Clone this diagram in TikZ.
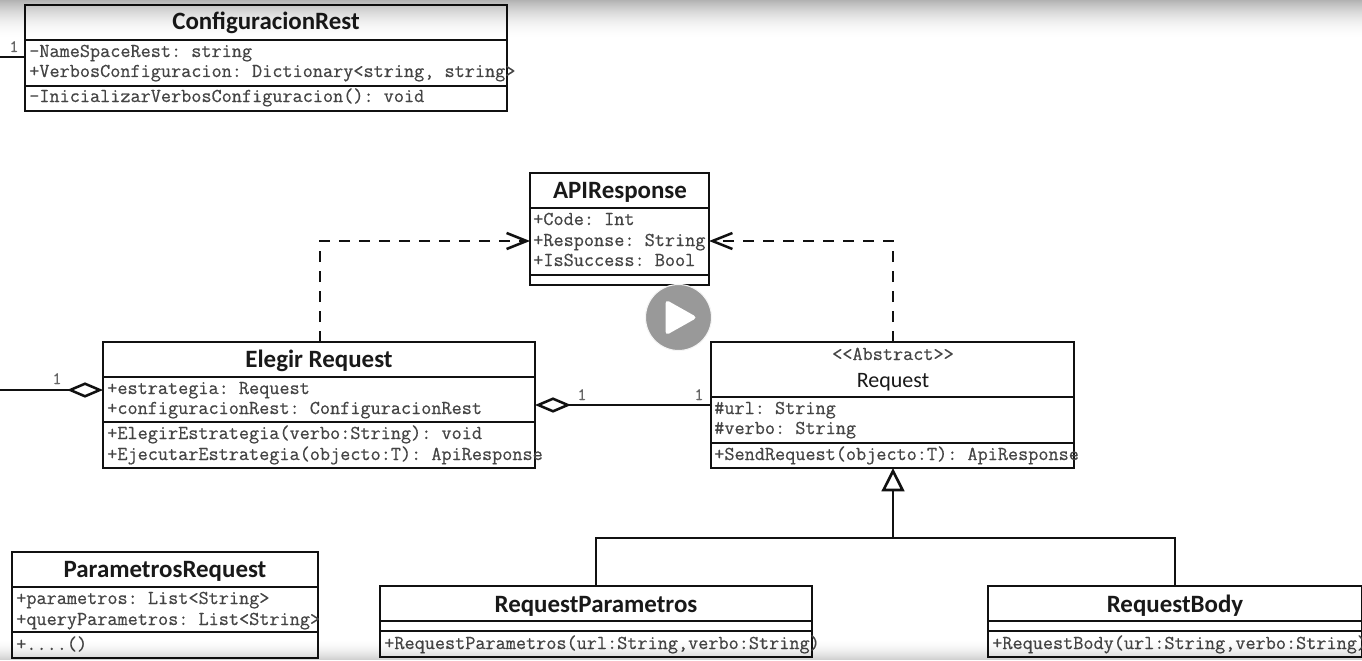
\documentclass[tikz,border=0pt]{standalone}
\usepackage{fontspec}
\setmainfont{Carlito}
\setmonofont[FakeBold=0.5]{Latin Modern Mono}
\usetikzlibrary{arrows.meta,calc}
\definecolor{inkline}{HTML}{111111}
\definecolor{inktext}{HTML}{444444}
\tikzset{
  umlframe/.style={draw=inkline,line width=2.1pt,fill=white,inner sep=0pt,outer sep=0pt,rectangle},
  rule/.style={draw=inkline,line width=2.1pt},
  titlebold/.style={inner sep=0pt,anchor=base,text=black!90,font=\fontsize{18.7}{19}\selectfont\bfseries},
  titleplain/.style={inner sep=0pt,anchor=base,text=black!90,font=\fontsize{16.5}{17}\selectfont},
  member/.style={inner sep=0pt,anchor=base west,text=inktext,font=\fontsize{14.75}{15}\selectfont\ttfamily},
  stereo/.style={inner sep=0pt,anchor=base,text=inktext,font=\fontsize{14.75}{15}\selectfont\ttfamily},
  mult/.style={inner sep=0pt,anchor=base,text=black!60,font=\fontsize{13}{13}\selectfont\ttfamily},
  assoc/.style={draw=inkline,line width=2.1pt},
  aggr/.style={assoc,{Diamond[open,fill=white,length=27pt,width=11.5pt,line width=1.9pt]}-},
  dep/.style={assoc,dash pattern=on 8.5pt off 6.5pt,-{Straight Barb[length=15pt,width=12pt,line width=1.9pt]}},
  gen/.style={assoc,-{Triangle[open,fill=white,length=17.5pt,width=17pt,line width=2pt]}},
  playdisc/.style={circle,fill=black!40,draw=white!96!black,line width=0.8pt,minimum size=49.5pt,inner sep=0pt},
}
\newcommand{\umlbox}[6]{% name x0 x1 y0 y3 dividers
  \node[umlframe,minimum width={(#3-#2)*0.75pt},minimum height={(#5-#4)*0.75pt}] (#1) at ({(#2+#3)/2},{(#4+#5)/2}) {};
  \foreach \yy in {#6} {\draw[rule] (#2,\yy) -- (#3,\yy);}
}
\begin{document}
\begin{tikzpicture}[x=0.75pt,y=-0.75pt]
\useasboundingbox (0,0) rectangle (1362,660);
\clip (0,0) rectangle (1362,660);
\fill[white] (0,0) rectangle (1362,660);

\coordinate (busTop) at (-1.6,57);
\coordinate (busBot) at (-1.6,390);
\coordinate (dashL) at (320,241);
\coordinate (dashR) at (893,241);
\coordinate (fork) at (893,538);
\coordinate (forkL) at (596,538);
\coordinate (forkR) at (1175,538);

% boxes
\umlbox{cfg}{25}{507}{5}{111}{40,86}
\node[titlebold] (cfgT) at (266,30) {ConfiguracionRest};
\node[member] (cfg1) at (29,57) {-NameSpaceRest: string};
\node[member] (cfg2) at (29,77) {+VerbosConfiguracion: Dictionary<string, string>};
\node[member] (cfg3) at (29,102) {-InicializarVerbosConfiguracion(): void};

\umlbox{api}{530}{709}{173}{285}{208,275}
\node[titlebold] (apiT) at (620,198) {APIResponse};
\node[member] (api1) at (533,225) {+Code: Int};
\node[member] (api2) at (533,246) {+Response: String};
\node[member] (api3) at (533,266) {+IsSuccess: Bool};

\umlbox{elegir}{103}{535}{342}{468}{377,422}
\node[titlebold] (elegirT) at (319,367) {Elegir Request};
\node[member] (el1) at (107,394) {+estrategia: Request};
\node[member] (el2) at (107,414) {+configuracionRest: ConfiguracionRest};
\node[member] (el3) at (107,439) {+ElegirEstrategia(verbo:String): void};
\node[member] (el4) at (107,460) {+EjecutarEstrategia(objecto:T): ApiResponse};

\umlbox{request}{711}{1074}{342}{468}{397,443}
\node[stereo] (reqS) at (893,360) {<<Abstract>>};
\node[titleplain] (reqT) at (893,387) {Request};
\node[member] (rq1) at (714,414) {\#url: String};
\node[member] (rq2) at (714,434) {\#verbo: String};
\node[member] (rq3) at (714,460) {+SendRequest(objecto:T): ApiResponse};

\umlbox{param}{12}{318}{552}{658}{587,632}
\node[titlebold] (paramT) at (165,577) {ParametrosRequest};
\node[member] (pa1) at (16,604) {+parametros: List<String>};
\node[member] (pa2) at (16,625) {+queryParametros: List<String>};
\node[member] (pa3) at (16,650) {+....()};

\umlbox{reqpar}{380}{812}{586}{657}{621,631}
\node[titlebold] (reqparT) at (596,612) {RequestParametros};
\node[member] (rp1) at (384,649) {+RequestParametros(url:String,verbo:String)};

\umlbox{reqbody}{988}{1362}{586}{657}{621,631}
\node[titlebold] (reqbodyT) at (1175,612) {RequestBody};
\node[member] (rb1) at (992,649) {+RequestBody(url:String,verbo:String)};

% connectors
\draw[aggr] (elegir.west |- busBot) -- (busBot) -- (busTop) -- (cfg.west |- busTop);
\draw[aggr] (elegir.east) -- (request.west);
\draw[dep] (elegir.north -| dashL) -- (dashL) -- (api.west |- dashL);
\draw[dep] (request.north -| dashR) -- (dashR) -- (api.east |- dashR);
\draw[gen] (fork) -- (request.south -| fork);
\draw[assoc] (reqpar.north -| forkL) -- (forkL) -- (forkR) -- (reqbody.north -| forkR);

% multiplicities
\node[mult] (m1) at (14,52) {1};
\node[mult] (m2) at (57,384) {1};
\node[mult] (m3) at (582,400) {1};
\node[mult] (m4) at (699,400) {1};

% video overlay
\node[playdisc] (play) at (678.5,317.5) {};
\fill[white,rounded corners=3pt] ($(play)+(-13,-18)$) -- ($(play)+(19,0)$) -- ($(play)+(-13,18)$) -- cycle;
\foreach \i in {0,...,39} {
  \fill[black,opacity={0.30*(1-\i/40)*(1-\i/40)}] (0,\i) rectangle (1362,\i+1);
}
\foreach \i in {0,...,21} {
  \fill[black,opacity={0.20*(\i/22)*(\i/22)}] (0,638+\i) rectangle (1362,639+\i);
}
\end{tikzpicture}
\end{document}
